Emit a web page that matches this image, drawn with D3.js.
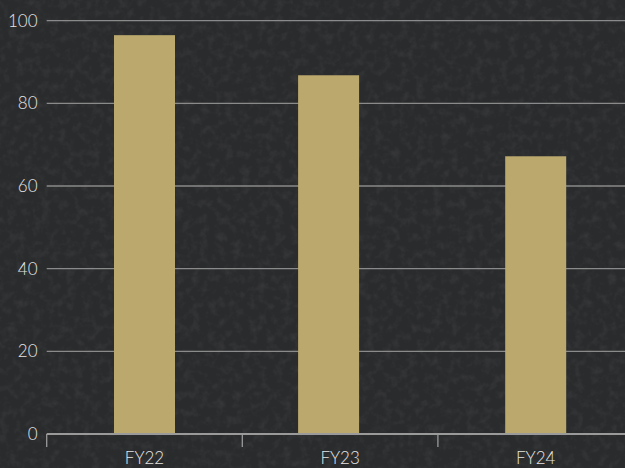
<!DOCTYPE html>
<html><head><meta charset="utf-8">
<script src="https://cdn.jsdelivr.net/npm/d3@7"></script>
<style>
html,body{margin:0;padding:0;background:#292a2b;overflow:hidden;}
svg{display:block;}
</style></head>
<body>
<svg id="chart" width="625" height="468"></svg>
<script>
const categories = ["FY22", "FY23", "FY24"];
const values = [96.5, 86.8, 67.2];
const yTicks = [0, 20, 40, 60, 80, 100];

const W = 625, H = 468;
const svg = d3.select("#chart");
const defs = svg.append("defs");
const f = defs.append("filter").attr("id","stone").attr("x",0).attr("y",0).attr("width","100%").attr("height","100%");
f.append("feTurbulence").attr("type","fractalNoise").attr("baseFrequency",0.12).attr("numOctaves",3).attr("seed",7).attr("result","n");
f.append("feColorMatrix").attr("in","n").attr("type","matrix")
  .attr("values","0 0 0 0 0.1  0 0 0 0 0.1  0 0 0 0 0.11  0 0 0 -1.6 0.9").attr("result","c");

svg.append("rect").attr("width",W).attr("height",H).attr("fill","#2a2b2c");
svg.append("rect").attr("width",W).attr("height",H).attr("fill","#000").attr("filter","url(#stone)").attr("opacity",0.35);

const x0 = 46.7, bandW = 195.6;
const x = d3.scaleBand().domain(categories).range([x0, x0 + bandW*categories.length]).paddingInner(0).paddingOuter(0);
const y = d3.scaleLinear().domain([0,100]).range([434, 20.7]);

const font = "Lato, 'Open Sans', sans-serif";

// gridlines
svg.append("g").selectAll("line").data(yTicks.filter(d=>d>0)).join("line")
  .attr("x1", x0).attr("x2", W).attr("y1", d=>y(d)).attr("y2", d=>y(d))
  .attr("stroke","#8a8a8a").attr("stroke-width",1.3);

// y labels
svg.append("g").selectAll("text").data(yTicks).join("text")
  .attr("x", 37.5).attr("y", d=>y(d)).attr("dy","0.36em")
  .attr("text-anchor","end").attr("fill","#e4e4e4")
  .style("font-family",font).style("font-weight",300).style("font-size","17px")
  .text(d=>d);

// bars (the middle bar sits slightly left of its band centre in the reference)
const bw = 61;
const barNudge = [0, -11.5, 0];
svg.append("g").selectAll("rect").data(values).join("rect")
  .attr("x",(d,i)=>x(categories[i]) + x.bandwidth()/2 - bw/2 + barNudge[i])
  .attr("width",bw)
  .attr("y",d=>y(d)).attr("height",d=>y(0)-y(d))
  .attr("fill","#bba86c");

// x axis
const gx = svg.append("g").attr("transform",`translate(0,${y(0)})`);
gx.append("line").attr("x1",x0).attr("x2",W).attr("y1",0).attr("y2",0)
  .attr("stroke","#9a9a9a").attr("stroke-width",2);
const bounds = d3.range(categories.length+1).map(i=>x0 + i*bandW);
gx.selectAll("line.tk").data(bounds).join("line").attr("class","tk")
  .attr("x1",d=>d).attr("x2",d=>d).attr("y1",0).attr("y2",13)
  .attr("stroke","#9a9a9a").attr("stroke-width",1.3);
gx.selectAll("text.lab").data(categories).join("text").attr("class","lab")
  .attr("x",d=>x(d)+x.bandwidth()/2).attr("y",30)
  .attr("text-anchor","middle").attr("fill","#e4e4e4")
  .style("font-family",font).style("font-weight",300).style("font-size","17px")
  .text(d=>d);
</script>
</body></html>
